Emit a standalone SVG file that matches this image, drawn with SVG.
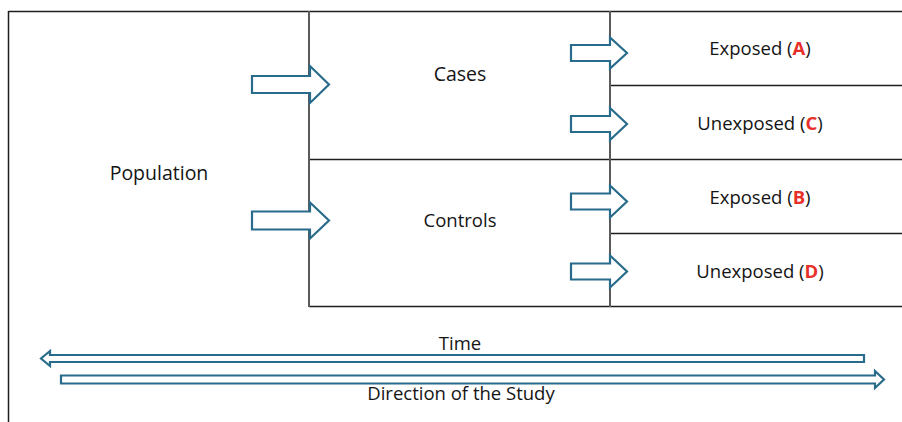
<svg xmlns="http://www.w3.org/2000/svg" width="902" height="422" viewBox="0 0 902 422">
<style>
.bg{fill:#ffffff}
.ln{stroke:#1e1e1e;stroke-width:1.5;fill:none}
.vl{stroke:#5a5a5a;stroke-width:2;fill:none}
.lbl{font-family:"Open Sans","Noto Sans","Liberation Sans",sans-serif;font-size:18.5px;fill:#141414;text-anchor:middle}
.big{font-size:19.5px}
.red{fill:#e8302a;font-weight:bold}
.arr{fill:#ffffff;stroke:#286b8a;stroke-width:2.2;stroke-linejoin:miter}
</style>
<rect class="bg" x="0" y="0" width="902" height="422"/>
<g id="frame">
<path class="ln" d="M8.5,11.5 H902 M8.5,11 V422"/>
</g>
<g id="population">
<text class="lbl big" x="159" y="180">Population</text>
</g>
<g id="cases">
<path class="ln" d="M309,159.5 H610"/>
<text class="lbl big" x="460" y="81">Cases</text>
</g>
<g id="controls">
<path class="ln" d="M309,306.5 H610"/>
<text class="lbl" x="460" y="227">Controls</text>
</g>
<g id="exposed-a">
<path class="ln" d="M610,85.5 H902"/>
<text class="lbl" x="760" y="55">Exposed (<tspan class="red">A</tspan>)</text>
</g>
<g id="unexposed-c">
<path class="ln" d="M610,159.5 H902"/>
<text class="lbl" x="760" y="129.5">Unexposed (<tspan class="red">C</tspan>)</text>
</g>
<g id="exposed-b">
<path class="ln" d="M610,233.5 H902"/>
<text class="lbl" x="760" y="203.5">Exposed (<tspan class="red">B</tspan>)</text>
</g>
<g id="unexposed-d">
<path class="ln" d="M610,306.5 H902"/>
<text class="lbl" x="760" y="277.5">Unexposed (<tspan class="red">D</tspan>)</text>
</g>
<g id="dividers">
<path class="vl" d="M309,11 V307 M610,11 V307"/>
</g>
<g id="connectors">
<path class="arr" d="M252,76 H310 V66 L329,84.5 L310,103 V93 H252 Z"/>
<path class="arr" d="M252,211.5 H310 V202.5 L329,220.5 L310,238.5 V229.5 H252 Z"/>
<path class="arr" d="M571,45 H610 V37.5 L627,53 L610,68.5 V61 H571 Z"/>
<path class="arr" d="M571,116 H610 V108 L627,124 L610,140 V132 H571 Z"/>
<path class="arr" d="M571,193.5 H610 V185.5 L627,201.5 L610,217.5 V209.5 H571 Z"/>
<path class="arr" d="M571,263.5 H610 V255.5 L627,271.5 L610,287.5 V279.5 H571 Z"/>
<path class="arr" d="M864,355 H50 V351 L41,358.5 L50,366 V362 H864 Z"/>
<path class="arr" d="M61,375.5 H875 V371 L884,379.5 L875,388 V383.5 H61 Z"/>
</g>
<g id="time">
<text class="lbl" x="460" y="350">Time</text>
</g>
<g id="direction">
<text class="lbl" x="461" y="399.5">Direction of the Study</text>
</g>
</svg>
